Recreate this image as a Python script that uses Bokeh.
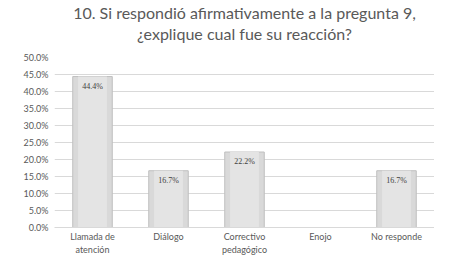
from bokeh.plotting import figure
from bokeh.models import ColumnDataSource, FixedTicker, NumeralTickFormatter, Range1d, Title, LabelSet
from bokeh.embed import file_html
from bokeh.resources import INLINE

categories = ["Llamada de\natención", "Diálogo", "Correctivo\npedagógico", "Enojo", "No responde"]
values = [0.444, 0.167, 0.222, 0.0, 0.167]
labels = ["44.4%", "16.7%", "22.2%", "0.0%", "16.7%"]
y_ticks = [0.0, 0.05, 0.10, 0.15, 0.20, 0.25, 0.30, 0.35, 0.40, 0.45, 0.50]
title_line1 = "10. Si respondió afirmativamente a la pregunta 9,"
title_line2 = "¿explique cual fue su reacción?"

FONT = "Lato"
GRAY = "#595959"

src = ColumnDataSource(dict(cat=categories, val=values, lab=[l if v > 0 else "" for l, v in zip(labels, values)]))

p = figure(x_range=categories, width=434, height=257, output_backend="svg", toolbar_location=None,
           min_border_left=54, min_border_right=0, min_border_bottom=0, min_border_top=0)
p.title = None
p.y_range = Range1d(0, 0.5)

spacer = Title(text=" ", text_font=FONT, text_font_size="11px", standoff=0)
t2 = Title(text=title_line2, align="center", text_font=FONT,
           text_font_size="16px", text_color=GRAY, text_font_style="normal", standoff=0)
t1 = Title(text=title_line1, align="center", text_font=FONT,
           text_font_size="16px", text_color=GRAY, text_font_style="normal", standoff=0)
p.add_layout(spacer, "above")
p.add_layout(t2, "above")
p.add_layout(t1, "above")

p.vbar(x="cat", top="val", width=0.52, source=src, fill_color="#d9d9d9", line_color="#bfbfbf", line_width=1)
p.vbar(x="cat", top="val", width=0.38, source=src, fill_color="#e4e4e4", line_color=None)

ls = LabelSet(x="cat", y="val", text="lab", source=src, text_align="center", text_baseline="top",
              y_offset=-5, text_font_size="8px", text_color="#404040", text_font=FONT)
p.add_layout(ls)

p.yaxis.ticker = FixedTicker(ticks=y_ticks)
p.yaxis.formatter = NumeralTickFormatter(format="0.0%")
p.yaxis.axis_line_color = None
p.yaxis.major_tick_line_color = None
p.yaxis.minor_tick_line_color = None
p.yaxis.major_tick_out = 0
p.yaxis.major_tick_in = 0
p.yaxis.minor_tick_out = 0
p.yaxis.major_label_text_font_size = "9px"
p.yaxis.major_label_text_color = GRAY
p.yaxis.major_label_text_font = FONT
p.yaxis.major_label_standoff = 6

p.xaxis.axis_line_color = "#d9d9d9"
p.xaxis.major_tick_line_color = None
p.xaxis.minor_tick_line_color = None
p.xaxis.major_tick_out = 0
p.xaxis.major_tick_in = 0
p.xaxis.minor_tick_out = 0
p.xaxis.major_label_text_font_size = "9px"
p.xaxis.major_label_text_color = GRAY
p.xaxis.major_label_text_font = FONT
p.xaxis.major_label_text_line_height = 1.2
p.xaxis.major_label_standoff = 3

p.xgrid.grid_line_color = None
p.ygrid.grid_line_color = "#d9d9d9"
p.outline_line_color = None
p.x_range.range_padding = 0.0

open("out.html", "w").write(file_html(p, INLINE))
